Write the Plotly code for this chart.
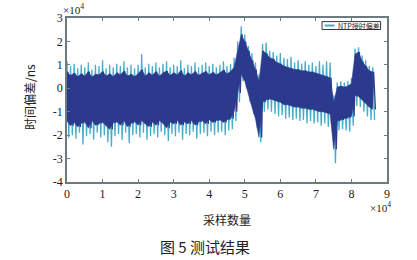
import plotly.graph_objects as go

# sample position (units of 1e4 samples), one reading per 1000 samples
pos = [0.0, 0.1, 0.2, 0.3, 0.4, 0.5, 0.6, 0.7, 0.8, 0.9,
       1.0, 1.1, 1.2, 1.3, 1.4, 1.5, 1.6, 1.7, 1.8, 1.9,
       2.0, 2.1, 2.2, 2.3, 2.4, 2.5, 2.6, 2.7, 2.8, 2.9,
       3.0, 3.1, 3.2, 3.3, 3.4, 3.5, 3.6, 3.7, 3.8, 3.9,
       4.0, 4.1, 4.2, 4.3, 4.4, 4.5, 4.6, 4.7, 4.8, 4.9,
       5.0, 5.1, 5.2, 5.3, 5.4, 5.5, 5.6, 5.7, 5.8, 5.9,
       6.0, 6.1, 6.2, 6.3, 6.4, 6.5, 6.6, 6.7, 6.8, 6.9,
       7.0, 7.1, 7.2, 7.3, 7.4, 7.5, 7.6, 7.7, 7.8, 7.9,
       8.0, 8.1, 8.2, 8.3, 8.4, 8.5, 8.6]

# outer (spike) maxima, units of 1e4 ns
peak_hi = [1.15, 0.95, 1.05, 0.85, 1.00, 0.90, 1.10, 0.80, 1.00, 0.95,
           1.20, 0.85, 1.00, 0.90, 1.05, 0.95, 1.15, 0.90, 1.00, 0.85,
           1.00, 1.45, 0.90, 1.05, 0.95, 1.10, 0.90, 1.05, 1.15, 0.90,
           1.00, 0.95, 1.20, 0.85, 1.00, 0.95, 1.10, 0.90, 1.00, 1.10,
           0.95, 1.05, 0.90, 1.00, 1.15, 0.95, 1.05, 1.30, 2.00, 2.65,
           2.30, 1.80, 1.50, 1.10, 0.60, 1.90, 1.95, 1.60, 1.55, 1.40,
           1.50, 1.30, 1.25, 1.35, 1.10, 1.20, 1.05, 1.15, 1.00, 1.10,
           0.95, 1.15, 1.00, 1.15, 1.10, -0.30, 0.25, 0.30, 0.25, 0.30,
           0.45, 1.70, 1.75, 1.40, 1.20, 0.95, 0.90]
# dense core maxima
core_hi = [0.70, 0.55, 0.65, 0.50, 0.62, 0.52, 0.72, 0.48, 0.60, 0.58,
           0.72, 0.52, 0.62, 0.50, 0.66, 0.58, 0.74, 0.52, 0.60, 0.50,
           0.62, 0.80, 0.52, 0.66, 0.56, 0.72, 0.52, 0.66, 0.74, 0.56,
           0.66, 0.58, 0.76, 0.52, 0.66, 0.58, 0.72, 0.56, 0.64, 0.72,
           0.58, 0.68, 0.58, 0.66, 0.78, 0.62, 0.72, 0.90, 1.60, 2.30,
           2.00, 1.60, 1.20, 0.80, 0.30, 1.60, 1.50, 1.30, 1.25, 1.10,
           1.05, 0.95, 0.90, 0.85, 0.80, 0.80, 0.75, 0.75, 0.70, 0.70,
           0.65, 0.60, 0.55, 0.50, 0.45, -0.60, 0.05, 0.10, 0.05, 0.10,
           0.20, 1.45, 1.55, 1.15, 0.95, 0.75, 0.70]
# dense core minima
core_lo = [-1.40, -1.60, -1.45, -1.65, -1.50, -1.42, -1.70, -1.38, -1.58, -1.50,
           -1.45, -1.62, -1.75, -1.48, -1.42, -1.58, -1.38, -1.64, -1.50, -1.42,
           -1.58, -1.38, -1.52, -1.64, -1.44, -1.58, -1.38, -1.50, -1.70, -1.44,
           -1.52, -1.38, -1.58, -1.44, -1.52, -1.38, -1.58, -1.44, -1.38, -1.52,
           -1.34, -1.46, -1.38, -1.34, -1.46, -1.34, -1.30, -1.00, -0.20, 0.60,
           0.30, -0.30, -0.80, -1.30, -2.10, -0.60, -0.50, -0.45, -0.50, -0.55,
           -0.60, -0.70, -0.70, -0.75, -0.80, -0.80, -0.85, -0.85, -0.90, -0.90,
           -0.95, -1.00, -1.00, -1.05, -1.10, -2.60, -1.40, -1.35, -1.30, -1.25,
           -1.20, -0.30, -0.35, -0.50, -0.65, -0.80, -0.90]
# outer (spike) minima
peak_lo = [-2.10, -2.00, -2.15, -1.90, -2.40, -2.05, -1.95, -2.20, -1.90, -2.10,
           -2.00, -2.30, -2.50, -2.05, -1.95, -2.20, -1.90, -2.35, -2.00, -1.95,
           -2.10, -1.90, -2.20, -2.05, -1.95, -2.10, -1.85, -2.00, -2.25, -1.95,
           -2.05, -1.90, -2.20, -1.95, -2.00, -1.85, -2.15, -1.95, -1.90, -2.05,
           -1.85, -2.00, -1.90, -1.85, -2.00, -1.80, -1.75, -1.40, -0.60, 0.30,
           0.00, -0.60, -1.10, -1.70, -2.30, -1.00, -0.90, -1.00, -1.10, -1.20,
           -1.15, -1.30, -1.25, -1.35, -1.30, -1.40, -1.35, -1.50, -1.40, -1.50,
           -1.45, -1.60, -1.50, -1.65, -1.60, -3.20, -1.80, -1.75, -1.80, -1.85,
           -1.60, -0.75, -0.80, -1.00, -1.20, -1.35, -1.35]

y_ticks = [-4, -3, -2, -1, 0, 1, 2, 3]
x_ticks = [0, 1, 2, 3, 4, 5, 6, 7, 8, 9]

CYAN = "#45acca"
NAVY = "#2c3a8e"
AXIS = "#6b7b7f"
SERIF = "Liberation Serif, Times New Roman, serif"
CJK = "Noto Sans CJK SC, sans-serif"

half = 0.05
# zig-zag traces between extremes
zx_out, zy_out, zx_in, zy_in = [], [], [], []
for p, a, b, c, d in zip(pos, peak_hi, peak_lo, core_hi, core_lo):
    zx_out += [p, p + half]
    zy_out += [a, b]
    zx_in += [p + half / 2, p + 1.5 * half]
    zy_in += [c, d]

fig = go.Figure()
fig.add_trace(go.Scatter(x=zx_out, y=zy_out, mode="lines",
                         line=dict(color=CYAN, width=1.3), hoverinfo="skip",
                         showlegend=False))
fig.add_trace(go.Scatter(x=pos + pos[::-1], y=core_hi + core_lo[::-1],
                         fill="toself", fillcolor=NAVY, mode="lines",
                         line=dict(color=NAVY, width=0.5), hoverinfo="skip",
                         showlegend=False))
fig.add_trace(go.Scatter(x=zx_in, y=zy_in, mode="lines",
                         line=dict(color=NAVY, width=1.2), hoverinfo="skip",
                         showlegend=False))

# legend drawn manually
fig.add_shape(type="rect", xref="paper", yref="paper",
              x0=0.797, x1=0.98, y0=0.93, y1=0.978,
              line=dict(color="#333333", width=1), fillcolor="white")
fig.add_shape(type="line", xref="paper", yref="paper",
              x0=0.805, x1=0.836, y0=0.954, y1=0.954,
              line=dict(color=CYAN, width=2))
fig.add_annotation(text="NTP授时偏差", xref="paper", yref="paper",
                   x=0.842, y=0.954, xanchor="left", yanchor="middle",
                   showarrow=False, font=dict(family=CJK, size=7, color="#222"))

fig.add_annotation(text="×10<sup>4</sup>", xref="paper", yref="paper",
                   x=-0.02, y=1.0, xanchor="left", yanchor="bottom",
                   showarrow=False, font=dict(family=SERIF, size=11, color="#222"))
fig.add_annotation(text="×10<sup>4</sup>", xref="paper", yref="paper",
                   x=1.02, y=-0.1, xanchor="right", yanchor="top",
                   showarrow=False, font=dict(family=SERIF, size=11, color="#222"))
fig.add_annotation(text="采样数量", xref="paper", yref="paper",
                   x=0.5, y=-0.165, xanchor="center", yanchor="top",
                   showarrow=False, font=dict(family=CJK, size=12, color="#222"))
fig.add_annotation(text="时间偏差/ns", xref="paper", yref="paper",
                   x=-0.085, y=0.52, xanchor="right", yanchor="middle",
                   textangle=-90, showarrow=False,
                   font=dict(family=CJK, size=12, color="#222"))
fig.add_annotation(text="图 5 测试结果", xref="paper", yref="paper",
                   x=0.43, y=-0.315, xanchor="center", yanchor="top",
                   showarrow=False, font=dict(family=CJK, size=15, color="#222"))

fig.update_xaxes(range=[0, 9], tickvals=x_ticks, ticktext=[str(t) for t in x_ticks],
                 showgrid=False, zeroline=False, showline=True, linecolor=AXIS,
                 linewidth=1.5, mirror="allticks", ticks="inside", ticklen=3,
                 tickcolor=AXIS, tickfont=dict(family=SERIF, size=12, color="#222"))
fig.update_yaxes(range=[-4, 3], tickvals=y_ticks, ticktext=[str(t) for t in y_ticks],
                 showgrid=False, zeroline=False, showline=True, linecolor=AXIS,
                 linewidth=1.5, mirror="allticks", ticks="inside", ticklen=3,
                 tickcolor=AXIS, tickfont=dict(family=SERIF, size=12, color="#222"))

fig.update_layout(width=417, height=260, plot_bgcolor="white", paper_bgcolor="white",
                  margin=dict(l=67, r=30, t=18, b=78), showlegend=False)

fig.write_html("out.html")
